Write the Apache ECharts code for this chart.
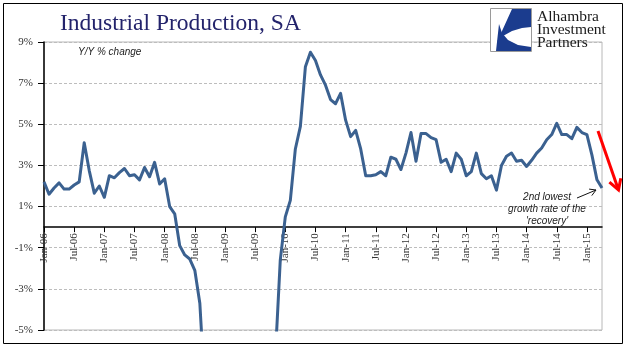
<!DOCTYPE html>
<html>
<head>
<meta charset="utf-8">
<script src="https://cdn.jsdelivr.net/npm/echarts@6/dist/echarts.min.js"></script>
<style>
html,body{margin:0;padding:0;background:#fff;}
#chart{width:641px;height:358px;}
</style>
</head>
<body>
<div id="chart"></div>
<script>
// Monthly categories Jan-06 .. Apr-15
const categories = [
  'Jan-06','Feb-06','Mar-06','Apr-06','May-06','Jun-06','Jul-06','Aug-06','Sep-06','Oct-06','Nov-06','Dec-06',
  'Jan-07','Feb-07','Mar-07','Apr-07','May-07','Jun-07','Jul-07','Aug-07','Sep-07','Oct-07','Nov-07','Dec-07',
  'Jan-08','Feb-08','Mar-08','Apr-08','May-08','Jun-08','Jul-08','Aug-08','Sep-08','Oct-08','Nov-08','Dec-08',
  'Jan-09','Feb-09','Mar-09','Apr-09','May-09','Jun-09','Jul-09','Aug-09','Sep-09','Oct-09','Nov-09','Dec-09',
  'Jan-10','Feb-10','Mar-10','Apr-10','May-10','Jun-10','Jul-10','Aug-10','Sep-10','Oct-10','Nov-10','Dec-10',
  'Jan-11','Feb-11','Mar-11','Apr-11','May-11','Jun-11','Jul-11','Aug-11','Sep-11','Oct-11','Nov-11','Dec-11',
  'Jan-12','Feb-12','Mar-12','Apr-12','May-12','Jun-12','Jul-12','Aug-12','Sep-12','Oct-12','Nov-12','Dec-12',
  'Jan-13','Feb-13','Mar-13','Apr-13','May-13','Jun-13','Jul-13','Aug-13','Sep-13','Oct-13','Nov-13','Dec-13',
  'Jan-14','Feb-14','Mar-14','Apr-14','May-14','Jun-14','Jul-14','Aug-14','Sep-14','Oct-14','Nov-14','Dec-14',
  'Jan-15','Feb-15','Mar-15','Apr-15'
];

// Y/Y % change (values below -5% run off the bottom of the chart)
const ipYoY = [
  2.2, 1.6, 1.9, 2.15, 1.85, 1.85, 2.05, 2.2, 4.1, 2.75, 1.65, 2.0,
  1.45, 2.5, 2.4, 2.65, 2.85, 2.5, 2.55, 2.3, 2.9, 2.45, 3.15, 2.1,
  2.35, 1.0, 0.65, -0.9, -1.35, -1.55, -2.1, -3.7, -8.0, -7.5, -8.5, -10.0,
  -12.0, -12.8, -13.5, -14.0, -14.5, -14.8, -14.0, -12.5, -10.5, -8.5, -6.4, -1.6,
  0.5, 1.3, 3.8, 4.9, 7.8, 8.5, 8.1, 7.4, 6.9, 6.2, 6.0, 6.5,
  5.2, 4.4, 4.7, 3.8, 2.5, 2.5, 2.55, 2.7, 2.5, 3.4, 3.3, 2.8,
  3.6, 4.6, 3.2, 4.55, 4.55, 4.35, 4.25, 3.15, 3.3, 2.7, 3.6, 3.3,
  2.5, 2.7, 3.6, 2.6, 2.35, 2.5, 1.8, 3.0, 3.45, 3.6, 3.2, 3.25,
  2.95, 3.25, 3.6, 3.85, 4.25, 4.5, 5.05, 4.5, 4.5, 4.3, 4.85, 4.6,
  4.5, 3.5, 2.3, 1.9
];

const yMin = -5, yMax = 9, yStep = 2;
const titleText = 'Industrial Production, SA';
const subText = 'Y/Y % change';
const noteLines = ['2nd lowest', 'growth rate of the', "'recovery'"];
const logoLines = ['Alhambra', 'Investment', 'Partners'];

const chart = echarts.init(document.getElementById('chart'), null, {renderer: 'canvas'});

const serif = '"Liberation Serif", "DejaVu Serif", serif';
const sans = '"Liberation Sans", Arial, sans-serif';

// plot geometry
const gLeft = 44, gRight = 39, gTop = 42, gBottom = 28;
const H = 358;
const plotH = H - gTop - gBottom;
const zeroY = gTop + plotH * (yMax - 0) / (yMax - yMin);

const graphics = [
  {type: 'rect', shape: {x: 3.5, y: 3.5, width: 619, height: 340}, style: {fill: 'none', stroke: '#000', lineWidth: 1}, z: 100},
  {type: 'text', x: 60, y: 12, style: {text: titleText, font: '23.5px ' + serif, fill: '#23236b'}, z: 100},
  {type: 'rect', shape: {x: 490.5, y: 8.5, width: 41, height: 43}, style: {fill: '#fff', stroke: '#9a9a9a', lineWidth: 1}, z: 100},
  {type: 'polygon', shape: {points: [[512, 9], [531, 9], [531, 27], [522, 28], [512, 31], [503, 36], [497, 42]]}, style: {fill: '#1b3c8e'}, z: 101},
  {type: 'polygon', shape: {points: [[496, 51], [531, 51], [531, 47], [518, 45], [508, 40], [502, 33], [499, 24]]}, style: {fill: '#1b3c8e'}, z: 101},
  {type: 'text', x: 78, y: 47, style: {text: subText, font: 'italic 10px ' + sans, fill: '#222'}, z: 100},
  {type: 'polyline', shape: {points: [[577, 198], [596, 190]]}, style: {stroke: '#111', lineWidth: 1}, z: 100},
  {type: 'polyline', shape: {points: [[589.1, 189.1], [596, 190], [591.8, 195.6]]}, style: {stroke: '#111', lineWidth: 1, fill: 'none'}, z: 100},
  {type: 'polyline', shape: {points: [[598, 131], [618.5, 190]]}, style: {stroke: '#ff0000', lineWidth: 3}, z: 100},
  {type: 'polyline', shape: {points: [[609.4, 182.2], [618.5, 190], [620.8, 178.2]]}, style: {stroke: '#ff0000', lineWidth: 3, fill: 'none', lineJoin: 'miter'}, z: 100}
];
logoLines.forEach((t, i) => {
  graphics.push({type: 'text', x: 537, y: 9 + i * 13, style: {text: t, font: '15.5px ' + serif, fill: '#1a1a1a'}, z: 100});
});
noteLines.forEach((t, i) => {
  graphics.push({type: 'text', x: 547, y: 192 + i * 12, style: {text: t, font: 'italic 10px ' + sans, fill: '#222', textAlign: 'center'}, z: 100});
});

chart.setOption({
  animation: false,
  grid: [
    {left: gLeft, right: gRight, top: gTop, bottom: gBottom, show: true, borderColor: '#b8b8b8', borderWidth: 1, backgroundColor: 'transparent', outerBoundsMode: 'none', containLabel: false},
    {left: gLeft, right: gRight, top: gTop, bottom: H - zeroY, show: false, outerBoundsMode: 'none', containLabel: false}
  ],
  xAxis: [
    {
      type: 'category', gridIndex: 0, data: categories, boundaryGap: false,
      axisLine: {show: false}, axisTick: {show: false}, axisLabel: {show: false}, splitLine: {show: false}
    },
    {
      type: 'category', gridIndex: 1, data: categories, boundaryGap: false, position: 'bottom',
      axisLine: {show: true, onZero: false, lineStyle: {color: '#000', width: 1.5}},
      axisTick: {show: true, interval: 5, length: 5, lineStyle: {color: '#000', width: 1}},
      axisLabel: {interval: 5, rotate: 90, margin: 6, fontFamily: serif, fontSize: 11, color: '#333'},
      splitLine: {show: false}
    }
  ],
  yAxis: [
    {
      type: 'value', gridIndex: 0,
      min: yMin, max: yMax, interval: yStep,
      axisLine: {show: true, lineStyle: {color: '#000', width: 1.5}},
      axisTick: {show: true, length: 6, lineStyle: {color: '#000', width: 1}},
      axisLabel: {formatter: '{value}%', margin: 11, fontFamily: serif, fontSize: 11, color: '#333'},
      splitLine: {show: true, lineStyle: {color: '#bdbdbd', type: [3, 2], width: 1}}
    },
    {type: 'value', gridIndex: 1, show: false, min: 0, max: 1}
  ],
  series: [{
    type: 'line',
    xAxisIndex: 0, yAxisIndex: 0,
    data: ipYoY,
    symbol: 'none',
    clip: true,
    lineStyle: {color: '#3b6190', width: 3, join: 'round'},
    z: 3
  }],
  graphic: graphics
});
</script>
</body>
</html>
